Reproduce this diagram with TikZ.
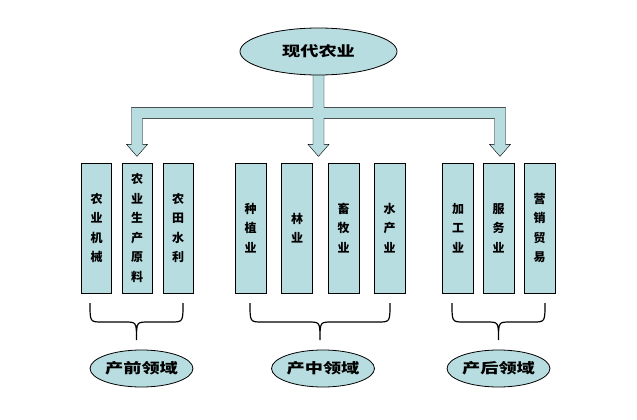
\documentclass[tikz,border=0pt]{standalone}
\usepackage{fontspec}
\setmainfont{Noto Sans CJK SC}
\newfontfamily\widecjk[FakeStretch=1.3]{Noto Sans CJK SC}
\usetikzlibrary{shapes.geometric,calc,backgrounds}
\definecolor{paleblue}{RGB}{184,221,225}
\begin{document}
\begin{tikzpicture}[x=1pt, y=-1pt, line width=0.8pt,
    oval/.style = {draw, ellipse, fill=paleblue, inner sep=0pt, font=\widecjk\bfseries\fontsize{14}{16}\selectfont},
    box/.style = {draw, rectangle, fill=paleblue, minimum width=31pt, minimum height=130pt, inner sep=0pt, align=center, font=\bfseries\fontsize{12}{19.5}\selectfont},
    pipe/.style = {draw, fill=paleblue, line join=miter},
    curly/.style = {line width=1.2pt, to path={let \p1=(\tikztostart), \p2=(\tikztotarget), \p3=($(\tikztostart)!0.5!(\tikztotarget)$) in
        .. controls (\x1,\y1-19pt) .. (\x1+12pt,\y1-19pt) -- (\x3-12pt,\y3-19pt)
        .. controls (\x3,\y3-19pt) .. (\x3,\y3-37pt)
        .. controls (\x3,\y3-19pt) .. (\x3+12pt,\y3-19pt) -- (\x2-12pt,\y2-19pt)
        .. controls (\x2,\y2-19pt) .. (\tikztotarget)}}]

    \useasboundingbox (0,0) rectangle (637,420);

    \node[oval, minimum width=157pt, minimum height=47pt] (top) at (318.5,51.5) {现代农业};

    % pre-production
    \node[box, minimum width=30pt] (a1) at (96.5,228) {农\\业\\机\\械};
    \node[box, minimum width=30pt] (a2) at (137,228) {农\\业\\生\\产\\原\\料};
    \node[box, minimum width=30pt] (a3) at (178,228) {农\\田\\水\\利};

    % production
    \node[box] (b1) at (250.5,228) {种\\植\\业};
    \node[box] (b2) at (297,228) {林\\业};
    \node[box] (b3) at (343.5,228) {畜\\牧\\业};
    \node[box] (b4) at (389.5,228) {水\\产\\业};

    % post-production
    \node[box] (c1) at (458,228) {加\\工\\业};
    \node[box] (c2) at (498.5,228) {服\\务\\业};
    \node[box] (c3) at (539.5,228) {营\\销\\贸\\易};

    \node[oval, minimum width=93pt, minimum height=37pt] (pre) at (141.5,368.5) {产前领域};
    \node[oval, minimum width=93pt, minimum height=37pt] (mid) at (323,368.5) {产中领域};
    \node[oval, minimum width=93pt, minimum height=37pt] (post) at (498.5,368.5) {产后领域};

    \coordinate (p1) at (90,303);
    \coordinate (p2) at (183,303);
    \coordinate (p3) at (250,303);
    \coordinate (p4) at (390,303);
    \coordinate (p5) at (452,303);
    \coordinate (p6) at (545,303);

    \draw[curly] (p1) to (p2);
    \draw[curly] (p3) to (p4);
    \draw[curly] (p5) to (p6);

    \begin{scope}[on background layer]
        \fill[white] (0,0) rectangle (637,420);
        \path[pipe] (top.south) ++(-5.5,-3) -- ++(0,35) -- ++(-181.5,0)
            -- ++(0,37) -- ++(-5,0) -- ++(10.5,12) -- ++(10.5,-12) -- ++(-5,0)
            -- ++(0,-26) -- ++(170.5,0)
            -- ++(0,26) -- ++(-5,0) -- ++(10.5,12) -- ++(10.5,-12) -- ++(-5,0)
            -- ++(0,-26) -- ++(170.5,0)
            -- ++(0,26) -- ++(-5,0) -- ++(10.5,12) -- ++(10.5,-12) -- ++(-5,0)
            -- ++(0,-37) -- ++(-181.5,0) -- ++(0,-35) -- cycle;
    \end{scope}
\end{tikzpicture}
\end{document}
